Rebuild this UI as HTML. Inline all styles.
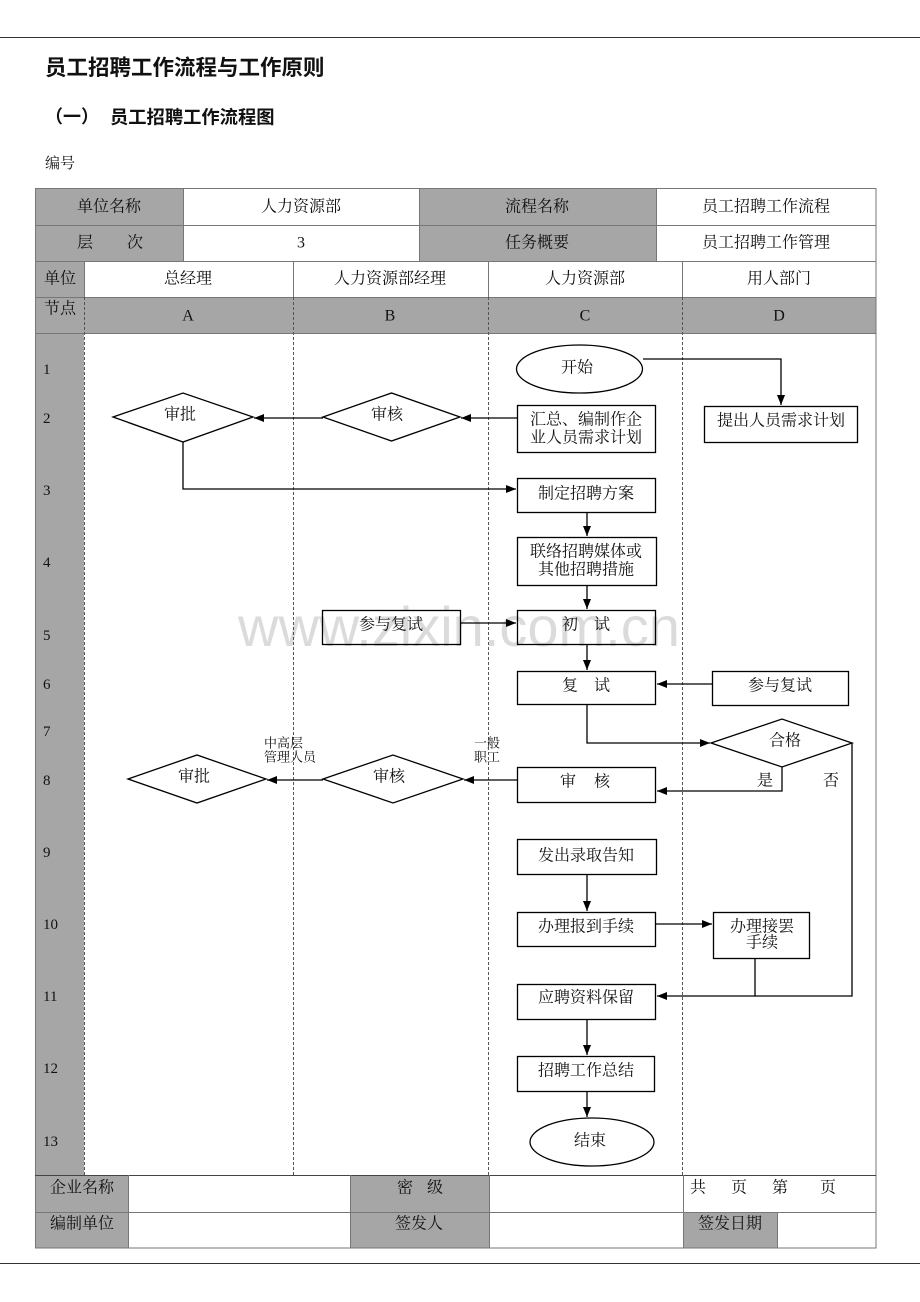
<!DOCTYPE html>
<html><head><meta charset="utf-8"><style>
html,body{margin:0;padding:0;background:#fff;}
svg{display:block;}
text{font-family:"Liberation Serif","Noto Serif CJK SC",serif;fill:#111;}
.s{font-family:"Liberation Sans","Noto Sans CJK SC",sans-serif;}
</style></head><body>
<svg width="920" height="1302" viewBox="0 0 920 1302" xmlns="http://www.w3.org/2000/svg">
<defs>
<marker id="a" markerUnits="userSpaceOnUse" markerWidth="10" markerHeight="8" refX="10" refY="4" orient="auto">
<path d="M0,0 L10,4 L0,8 z" fill="#000"/>
</marker>
</defs>
<!-- page lines -->
<line x1="0" y1="37.5" x2="920" y2="37.5" stroke="#333" stroke-width="1"/>
<line x1="0" y1="1263.5" x2="920" y2="1263.5" stroke="#333" stroke-width="1"/>
<text x="45" y="68" dominant-baseline="central" font-size="21.5" font-weight="bold" class="s">员工招聘工作流程与工作原则</text>
<text x="45" y="117" dominant-baseline="central" font-size="18" font-weight="bold" class="s">（一）</text>
<text x="110" y="117" dominant-baseline="central" font-size="18.3" font-weight="bold" class="s">员工招聘工作流程图</text>
<text x="45" y="164" dominant-baseline="central" font-size="15">编号</text>

<!-- table backgrounds -->
<g fill="#a6a6a6">
<rect x="35" y="188" width="148" height="73"/>
<rect x="419" y="188" width="237" height="73"/>
<rect x="35" y="261" width="49" height="914"/>
<rect x="35" y="297" width="841" height="36"/>
<rect x="35" y="1175" width="93" height="73"/>
<rect x="350" y="1175" width="139" height="73"/>
<rect x="683" y="1212" width="94" height="36"/>
</g>

<!-- table lines -->
<g stroke="#777" stroke-width="1" fill="none">
<rect x="35.5" y="188.5" width="840.5" height="1059.5"/>
<line x1="35" y1="225.5" x2="876" y2="225.5"/>
<line x1="35" y1="261.5" x2="876" y2="261.5"/>
<line x1="35" y1="297.5" x2="876" y2="297.5"/>
<line x1="35" y1="333.5" x2="876" y2="333.5"/>
<line x1="35" y1="1175.5" x2="876" y2="1175.5" stroke="#444"/>
<line x1="35" y1="1212.5" x2="876" y2="1212.5"/>
<line x1="183.5" y1="188" x2="183.5" y2="261"/>
<line x1="419.5" y1="188" x2="419.5" y2="261"/>
<line x1="656.5" y1="188" x2="656.5" y2="261"/>
<line x1="84.5" y1="261" x2="84.5" y2="297"/>
<line x1="293.5" y1="261" x2="293.5" y2="297"/>
<line x1="488.5" y1="261" x2="488.5" y2="297"/>
<line x1="682.5" y1="261" x2="682.5" y2="297"/>
<line x1="128.5" y1="1175" x2="128.5" y2="1248"/>
<line x1="350.5" y1="1175" x2="350.5" y2="1248"/>
<line x1="489.5" y1="1175" x2="489.5" y2="1248"/>
<line x1="683.5" y1="1175" x2="683.5" y2="1248"/>
<line x1="777.5" y1="1212" x2="777.5" y2="1248"/>
</g>
<g stroke="#555" stroke-width="1" stroke-dasharray="3,2" fill="none">
<line x1="84.5" y1="297" x2="84.5" y2="1175"/>
<line x1="293.5" y1="297" x2="293.5" y2="1175"/>
<line x1="488.5" y1="297" x2="488.5" y2="1175"/>
<line x1="682.5" y1="297" x2="682.5" y2="1175"/>
</g>

<!-- header texts -->
<g font-size="16" text-anchor="middle" dominant-baseline="central">
<text x="109" y="207">单位名称</text>
<text x="301" y="207">人力资源部</text>
<text x="537" y="207">流程名称</text>
<text x="766" y="207">员工招聘工作流程</text>
<text x="85" y="243">层</text>
<text x="135" y="243">次</text>
<text x="301" y="243">3</text>
<text x="537" y="243">任务概要</text>
<text x="766" y="243">员工招聘工作管理</text>
<text x="60" y="279">单位</text>
<text x="188" y="279">总经理</text>
<text x="390" y="279">人力资源部经理</text>
<text x="585" y="279">人力资源部</text>
<text x="779" y="279">用人部门</text>
<text x="60" y="309">节点</text>
<text x="188" y="316">A</text>
<text x="390" y="316">B</text>
<text x="585" y="316">C</text>
<text x="779" y="316">D</text>
</g>
<!-- row numbers -->
<g font-size="15" dominant-baseline="central">
<text x="43" y="370">1</text>
<text x="43" y="419">2</text>
<text x="43" y="491">3</text>
<text x="43" y="563">4</text>
<text x="43" y="636">5</text>
<text x="43" y="685">6</text>
<text x="43" y="732">7</text>
<text x="43" y="781">8</text>
<text x="43" y="853">9</text>
<text x="43" y="925">10</text>
<text x="43" y="997">11</text>
<text x="43" y="1069">12</text>
<text x="43" y="1142">13</text>
</g>
<!-- footer texts -->
<g font-size="16" dominant-baseline="central">
<text x="82" y="1188" text-anchor="middle">企业名称</text>
<text x="405" y="1188" text-anchor="middle">密</text>
<text x="435" y="1188" text-anchor="middle">级</text>
<text x="698" y="1188" text-anchor="middle">共</text>
<text x="739" y="1188" text-anchor="middle">页</text>
<text x="780" y="1188" text-anchor="middle">第</text>
<text x="828" y="1188" text-anchor="middle">页</text>
<text x="82" y="1224" text-anchor="middle">编制单位</text>
<text x="419" y="1224" text-anchor="middle">签发人</text>
<text x="730" y="1224" text-anchor="middle">签发日期</text>
</g>

<!-- flow shapes -->
<g stroke="#000" stroke-width="1.3" fill="#fff">
<ellipse cx="579.5" cy="369" rx="63" ry="24"/>
<rect x="704.5" y="406.5" width="153" height="36"/>
<rect x="517.5" y="405.5" width="138" height="47"/>
<polygon points="323,417 391.5,393 460,417 391.5,441"/>
<polygon points="113,417 183,393 253,417 183,442"/>
<rect x="517.5" y="478.5" width="138" height="34"/>
<rect x="517.5" y="537.5" width="139" height="48"/>
<rect x="517.5" y="610.5" width="138" height="34"/>
<rect x="322.5" y="610.5" width="138" height="34"/>
<rect x="517.5" y="671.5" width="138" height="33"/>
<rect x="712.5" y="671.5" width="136" height="34"/>
<polygon points="711,743 782,719 852,743 782,767"/>
<rect x="517.5" y="767.5" width="138" height="35"/>
<polygon points="323,779 393,755 463,779 393,803"/>
<polygon points="128,779 197,755 266,779 197,803"/>
<rect x="517.5" y="839.5" width="139" height="35"/>
<rect x="517.5" y="912.5" width="138" height="34"/>
<rect x="713.5" y="912.5" width="96" height="46"/>
<rect x="517.5" y="984.5" width="138" height="35"/>
<rect x="517.5" y="1056.5" width="137" height="35"/>
<ellipse cx="592" cy="1142" rx="62" ry="24"/>
</g>

<!-- connectors -->
<g stroke="#000" stroke-width="1.3" fill="none">
<polyline points="643,359 781,359 781,405" marker-end="url(#a)"/>
<line x1="517" y1="418" x2="461" y2="418" marker-end="url(#a)"/>
<line x1="323" y1="418" x2="254" y2="418" marker-end="url(#a)"/>
<polyline points="183,442 183,489 516,489" marker-end="url(#a)"/>
<line x1="587" y1="513" x2="587" y2="536" marker-end="url(#a)"/>
<line x1="587" y1="586" x2="587" y2="609" marker-end="url(#a)"/>
<line x1="461" y1="623" x2="516" y2="623" marker-end="url(#a)"/>
<line x1="587" y1="645" x2="587" y2="670" marker-end="url(#a)"/>
<line x1="712" y1="684" x2="657" y2="684" marker-end="url(#a)"/>
<polyline points="587,705 587,743 710,743" marker-end="url(#a)"/>
<polyline points="782,767 782,791 657,791" marker-end="url(#a)"/>
<polyline points="852,743 852,996 657,996" marker-end="url(#a)"/>
<line x1="517" y1="780" x2="464" y2="780" marker-end="url(#a)"/>
<line x1="323" y1="780" x2="267" y2="780" marker-end="url(#a)"/>
<line x1="587" y1="875" x2="587" y2="911" marker-end="url(#a)"/>
<line x1="656" y1="924" x2="712" y2="924" marker-end="url(#a)"/>
<line x1="755" y1="959" x2="755" y2="996"/>
<line x1="587" y1="1020" x2="587" y2="1055" marker-end="url(#a)"/>
<line x1="587" y1="1092" x2="587" y2="1117" marker-end="url(#a)"/>
</g>

<!-- watermark (over shapes) -->
<text x="238" y="646" font-size="56" class="s" style="fill:#000;fill-opacity:0.14">www.zixin.com.cn</text>

<!-- flow texts -->
<g font-size="16" text-anchor="middle" dominant-baseline="central">
<text x="577" y="368">开始</text>
<text x="781" y="421">提出人员需求计划</text>
<text x="586" y="420">汇总、编制作企</text>
<text x="586" y="438">业人员需求计划</text>
<text x="387" y="415">审核</text>
<text x="180" y="415">审批</text>
<text x="586" y="494">制定招聘方案</text>
<text x="586" y="552">联络招聘媒体或</text>
<text x="586" y="570">其他招聘措施</text>
<text x="570" y="625">初</text>
<text x="602" y="625">试</text>
<text x="391" y="625">参与复试</text>
<text x="570" y="686">复</text>
<text x="602" y="686">试</text>
<text x="780" y="686">参与复试</text>
<text x="785" y="741">合格</text>
<text x="765" y="781">是</text>
<text x="831" y="781">否</text>
<text x="568" y="782">审</text>
<text x="602" y="782">核</text>
<text x="389" y="777">审核</text>
<text x="194" y="777">审批</text>
<text x="586" y="856">发出录取告知</text>
<text x="586" y="927">办理报到手续</text>
<text x="762" y="927">办理接罢</text>
<text x="762" y="943">手续</text>
<text x="586" y="998">应聘资料保留</text>
<text x="586" y="1071">招聘工作总结</text>
<text x="590" y="1141">结束</text>
</g>
<g font-size="13" dominant-baseline="central">
<text x="264" y="743">中高层</text>
<text x="264" y="757">管理人员</text>
<text x="474" y="743">一般</text>
<text x="474" y="757">职工</text>
</g>
</svg>
</body></html>
